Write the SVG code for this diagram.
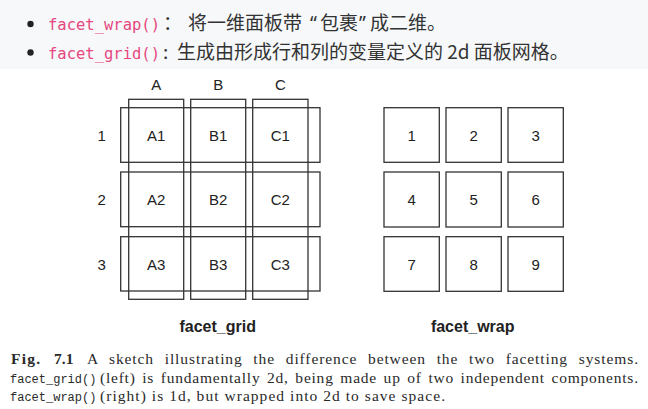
<svg xmlns="http://www.w3.org/2000/svg" width="648" height="409" viewBox="0 0 648 409">
<style>
.code{font-family:"DejaVu Sans Mono","Liberation Mono",monospace;font-size:15.5px;fill:#e6477f}
.cjk{font-family:"Noto Sans CJK SC","Noto Sans",sans-serif;font-size:19px;fill:#333}
.q{font-family:"Noto Sans","Noto Sans CJK SC",sans-serif;font-size:19px;fill:#333}
.lbl{font-family:"Liberation Sans",Arial,sans-serif;font-size:15px;fill:#222;text-anchor:middle}
.ttl{font-family:"Liberation Sans",Arial,sans-serif;font-size:16px;font-weight:bold;fill:#222;text-anchor:middle}
.box{fill:none;stroke:#333;stroke-width:1.3}
.cap{font-family:"Liberation Serif","Times New Roman",serif;font-size:15.5px;fill:#2a2a2a}
.tt{font-family:"Liberation Mono","Courier New",monospace;font-size:12px;fill:#2a2a2a}
</style>
<rect x="0" y="0" width="648" height="69" fill="#f6f8fa"/>
<rect x="0" y="69" width="648" height="340" fill="#ffffff"/>
<g id="bullets">
<circle cx="30.5" cy="24" r="3.2" fill="#222"/>
<text class="code" x="48" y="29.5">facet_wrap()</text>
<text class="cjk" x="163" y="30">：</text>
<text class="cjk" x="188" y="30">将一维面板带</text>
<text class="q" x="310" y="30">“</text>
<text class="cjk" x="320" y="30">包裹</text>
<text class="q" x="359" y="30">”</text>
<text class="cjk" x="370" y="30">成二维。</text>
<circle cx="30.5" cy="52.5" r="3.2" fill="#222"/>
<text class="code" x="48" y="58.5">facet_grid()</text>
<text class="cjk" x="163" y="59">:</text>
<text class="cjk" x="177" y="59">生成由形成行和列的变量定义的 2d 面板网格。</text>
</g>
<g id="facet_grid">
<rect class="box" x="128.7" y="99.3" width="55" height="200"/>
<rect class="box" x="190.7" y="99.3" width="55" height="200"/>
<rect class="box" x="252.7" y="99.3" width="55.3" height="200"/>
<rect class="box" x="120.7" y="107.7" width="199.3" height="54.6"/>
<rect class="box" x="120.7" y="172" width="199.3" height="54.7"/>
<rect class="box" x="120.7" y="236.7" width="199.3" height="54.3"/>
<text class="lbl" x="156.2" y="90">A</text>
<text class="lbl" x="218.2" y="90">B</text>
<text class="lbl" x="280.3" y="90">C</text>
<text class="lbl" x="101.7" y="140.5">1</text>
<text class="lbl" x="101.7" y="205">2</text>
<text class="lbl" x="101.7" y="269.5">3</text>
<text class="lbl" x="156.2" y="140.5">A1</text>
<text class="lbl" x="218.2" y="140.5">B1</text>
<text class="lbl" x="280.3" y="140.5">C1</text>
<text class="lbl" x="156.2" y="205">A2</text>
<text class="lbl" x="218.2" y="205">B2</text>
<text class="lbl" x="280.3" y="205">C2</text>
<text class="lbl" x="156.2" y="269.5">A3</text>
<text class="lbl" x="218.2" y="269.5">B3</text>
<text class="lbl" x="280.3" y="269.5">C3</text>
<text class="ttl" x="217.7" y="331.5">facet_grid</text>
</g>
<g id="facet_wrap">
<rect class="box" x="384" y="107.7" width="55.3" height="54.6"/>
<rect class="box" x="446" y="107.7" width="55.3" height="54.6"/>
<rect class="box" x="508" y="107.7" width="55.3" height="54.6"/>
<rect class="box" x="384" y="172" width="55.3" height="55"/>
<rect class="box" x="446" y="172" width="55.3" height="55"/>
<rect class="box" x="508" y="172" width="55.3" height="55"/>
<rect class="box" x="384" y="236.7" width="55.3" height="54.6"/>
<rect class="box" x="446" y="236.7" width="55.3" height="54.6"/>
<rect class="box" x="508" y="236.7" width="55.3" height="54.6"/>
<text class="lbl" x="411.7" y="140.5">1</text>
<text class="lbl" x="473.7" y="140.5">2</text>
<text class="lbl" x="535.7" y="140.5">3</text>
<text class="lbl" x="411.7" y="205">4</text>
<text class="lbl" x="473.7" y="205">5</text>
<text class="lbl" x="535.7" y="205">6</text>
<text class="lbl" x="411.7" y="269.5">7</text>
<text class="lbl" x="473.7" y="269.5">8</text>
<text class="lbl" x="535.7" y="269.5">9</text>
<text class="ttl" x="472.7" y="331.5">facet_wrap</text>
</g>
<g id="caption">
<text class="cap" x="11" y="364" font-weight="bold" textLength="29" lengthAdjust="spacing">Fig.</text>
<text class="cap" x="54" y="364" font-weight="bold">7.1</text>
<text class="cap" x="87" y="364" word-spacing="6" textLength="551" lengthAdjust="spacing">A sketch illustrating the difference between the two facetting systems.</text>
<text class="tt" x="10" y="382.5">facet_grid()</text>
<text class="cap" x="100" y="382.5" word-spacing="2" textLength="538" lengthAdjust="spacing">(left) is fundamentally 2d, being made up of two independent components.</text>
<text class="tt" x="10" y="401">facet_wrap()</text>
<text class="cap" x="100" y="401" textLength="345" lengthAdjust="spacing">(right) is 1d, but wrapped into 2d to save space.</text>
</g>
</svg>
